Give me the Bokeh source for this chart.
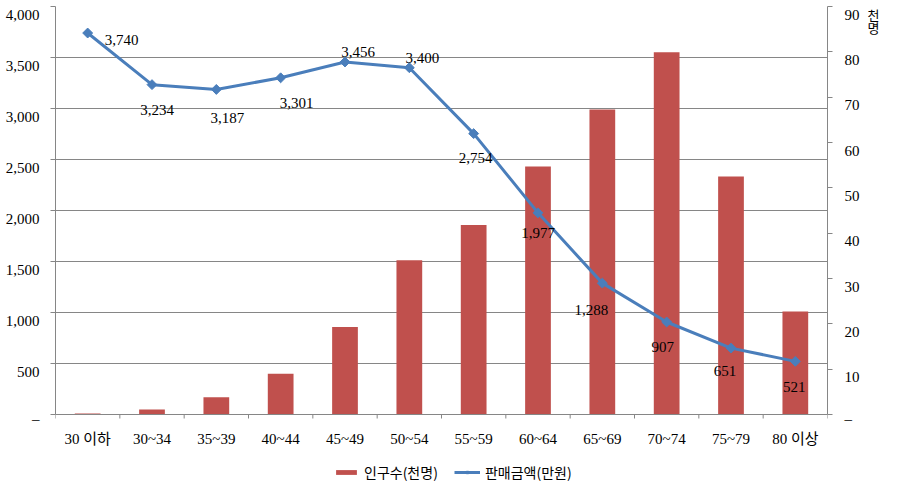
import numpy as np
from bokeh.plotting import figure
from bokeh.models import (Range1d, LinearAxis, FixedTicker, ColumnDataSource,
                          Legend, LegendItem, Span)
from bokeh.core.properties import value
from bokeh.embed import file_html
from bokeh.resources import INLINE

# ---- data ----
categories = ["30 이하", "30~34", "35~39", "40~44", "45~49", "50~54",
              "55~59", "60~64", "65~69", "70~74", "75~79", "80 이상"]
population = [0.2, 1.1, 3.8, 9.0, 19.3, 34.0, 41.8, 54.7, 67.3, 79.9, 52.5, 22.7]   # 인구수(천명)
sales = [3740, 3234, 3187, 3301, 3456, 3400, 2754, 1977, 1288, 907, 651, 521]      # 판매금액(만원)
sales_labels = ["3,740", "3,234", "3,187", "3,301", "3,456", "3,400",
                "2,754", "1,977", "1,288", "907", "651", "521"]
left_ticks = list(range(0, 4001, 500))
right_ticks = list(range(0, 91, 10))
unit_text = ["천", "명"]          # right-axis unit, stacked

# ---- style ----
label_dx = [34, 5, 11, 16, 13, 13, 2, 0, -11, -4, -6, -1]     # data-label pixel offsets
label_dy = [7, 25, 29, 25, -10, -10, 24, 20, 27, 25, 23, 26]
BAR = "#C0504D"
LINE = "#4A7EBB"
GRID = "#868686"
SERIF = "Liberation Serif"
SERIF_KR = "'Liberation Serif', 'Noto Sans CJK KR'"
KR = "Noto Sans CJK KR"

# layout in pixels
W, H = 896, 484
TOP, LEFT, RIGHT = 6, 55, 69
AXIS_PX = 408                      # pixels from 0 to max on the value axes
BELOW_PX = H - TOP - AXIS_PX       # category labels + legend live here, inside the frame
LABEL_SHIFT_PX = 8                 # tick-label vertical correction (svg text)
ZERO_SHIFT_PX = 4                  # the dash used for zero sits a little higher
UNIT_PX = [8, 20.5]                # unit characters, pixels below the top tick
LMAX, RMAX = 4000, 90
l_per_px = LMAX / AXIS_PX
r_per_px = RMAX / AXIS_PX

n = len(categories)
xpos = list(np.arange(n) + 0.5)
bounds_x = list(range(n + 1))

p = figure(width=W, height=H, output_backend="svg", toolbar_location=None,
           x_range=Range1d(0, n),
           y_range=Range1d(-BELOW_PX * l_per_px, LMAX),
           x_axis_location=None,
           min_border_left=LEFT, min_border_right=RIGHT, min_border_top=TOP,
           min_border_bottom=0)
p.outline_line_color = None
p.background_fill_color = "white"
p.border_fill_color = "white"
p.extra_y_ranges = {"pop": Range1d(-BELOW_PX * r_per_px, RMAX)}

bars = p.vbar(x=xpos, top=population, bottom=0, width=0.4, y_range_name="pop",
              fill_color=BAR, line_color=None)
line = p.line(xpos, sales, line_color=LINE, line_width=3)
marks = p.scatter(xpos, sales, marker="square", angle=np.pi / 4, size=7,
                  fill_color=LINE, line_color=LINE)

src = ColumnDataSource(dict(x=xpos, y=sales, t=sales_labels, dx=label_dx, dy=label_dy))
p.text(x="x", y="y", text="t", x_offset="dx", y_offset="dy", source=src,
       text_align="center", text_baseline="middle",
       text_font=value(SERIF), text_font_size="15px", text_color="black")

# ---- category axis (drawn at value 0 inside the frame) ----
p.add_layout(Span(location=0, dimension="width", line_color=GRID, line_width=1))
p.segment(x0=bounds_x, y0=[0] * len(bounds_x), x1=bounds_x,
          y1=[-4 * l_per_px] * len(bounds_x), line_color=GRID, line_width=1)
p.text(x=xpos, y=[0] * n, text=categories, y_offset=24,
       text_align="center", text_baseline="middle",
       text_font=value(SERIF_KR), text_font_size="15px", text_color="black")

# ---- value axes: one axis draws line + ticks, a second one carries the labels ----
def tick_axis(ax):
    ax.axis_line_color = GRID
    ax.major_tick_line_color = GRID
    ax.minor_tick_line_color = None
    ax.major_tick_in = 0
    ax.major_tick_out = 5
    ax.major_label_standoff = 0
    ax.major_label_text_font_size = "1px"

def label_axis(ax, standoff, font=SERIF, size="15px"):
    ax.axis_line_color = None
    ax.major_tick_line_color = None
    ax.minor_tick_line_color = None
    ax.major_tick_in = 0
    ax.major_tick_out = 0
    ax.major_label_standoff = standoff
    ax.major_label_text_font = font
    ax.major_label_text_font_size = size
    ax.major_label_text_color = "black"

def fmt(v):
    return "–" if v == 0 else f"{v:,}"

def label_positions(ticks, per_px):
    return [t - (ZERO_SHIFT_PX if t == 0 else LABEL_SHIFT_PX) * per_px for t in ticks]

ly = p.yaxis[0]
ly.ticker = FixedTicker(ticks=left_ticks)
ly.major_label_overrides = {t: "" for t in left_ticks}
ly.bounds = (0, LMAX)
tick_axis(ly)

l_lab_pos = label_positions(left_ticks, l_per_px)
ll = LinearAxis(ticker=FixedTicker(ticks=l_lab_pos),
                major_label_overrides={v: fmt(t) for v, t in zip(l_lab_pos, left_ticks)})
label_axis(ll, 11)
p.add_layout(ll, "left")

ry = LinearAxis(y_range_name="pop", ticker=FixedTicker(ticks=right_ticks),
                major_label_overrides={t: "" for t in right_ticks}, bounds=(0, RMAX))
tick_axis(ry)
p.add_layout(ry, "right")

r_lab_pos = label_positions(right_ticks, r_per_px)
rl = LinearAxis(y_range_name="pop", ticker=FixedTicker(ticks=r_lab_pos),
                major_label_overrides={v: fmt(t) for v, t in zip(r_lab_pos, right_ticks)})
label_axis(rl, 12)
p.add_layout(rl, "right")

unit_pos = [RMAX - d * r_per_px for d in UNIT_PX]
uy = LinearAxis(y_range_name="pop", ticker=FixedTicker(ticks=unit_pos),
                major_label_overrides={v: t for v, t in zip(unit_pos, unit_text)})
label_axis(uy, 5, KR, "13px")
p.add_layout(uy, "right")

p.xgrid.visible = False
p.ygrid[0].ticker = FixedTicker(ticks=left_ticks)
p.ygrid.grid_line_color = GRID
p.ygrid.grid_line_width = 1

# legend inside the frame, under the category labels
legend = Legend(items=[LegendItem(label="인구수(천명)", renderers=[bars]),
                       LegendItem(label="판매금액(만원)", renderers=[line, marks])],
                orientation="horizontal", location=(278, 2),
                glyph_width=26, glyph_height=6, label_height=14,
                label_standoff=5, spacing=16, padding=0, margin=0,
                border_line_color=None, background_fill_alpha=0,
                label_text_font=KR, label_text_font_size="14px",
                label_text_color="black")
p.add_layout(legend, "center")

open("out.html", "w").write(file_html(p, INLINE))
